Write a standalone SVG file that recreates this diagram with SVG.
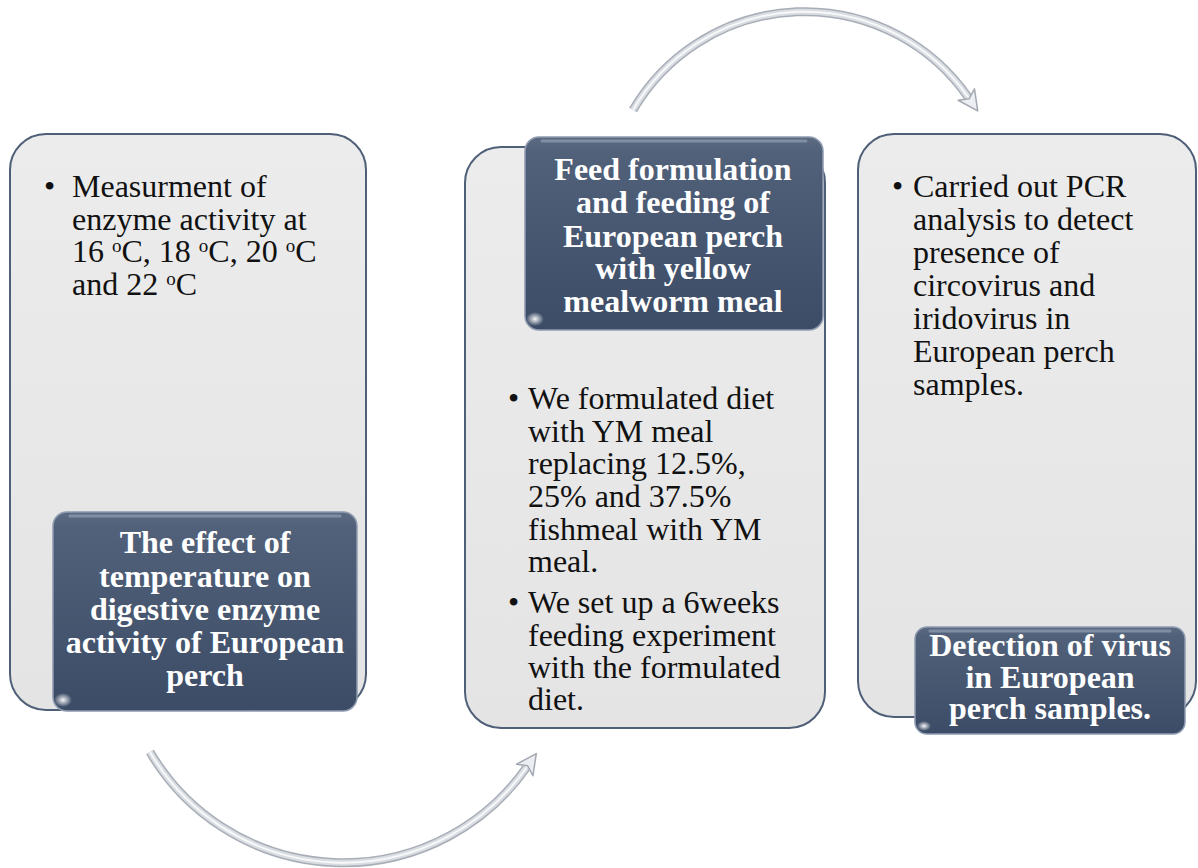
<svg xmlns="http://www.w3.org/2000/svg" width="1198" height="868" viewBox="0 0 1198 868">
<defs>
<linearGradient id="panelG" x1="0" y1="0" x2="0" y2="1">
<stop offset="0" stop-color="#ececec"/>
<stop offset="1" stop-color="#e4e4e4"/>
</linearGradient>
<linearGradient id="darkG" x1="0" y1="0" x2="0" y2="1">
<stop offset="0" stop-color="#5c6b81"/>
<stop offset="0.08" stop-color="#51617a"/>
<stop offset="1" stop-color="#3c4c66"/>
</linearGradient>
<radialGradient id="glint" cx="0.5" cy="0.5" r="0.5">
<stop offset="0" stop-color="#ffffff" stop-opacity="0.95"/>
<stop offset="1" stop-color="#ffffff" stop-opacity="0"/>
</radialGradient>
<marker id="head" viewBox="0 0 26 26" refX="6" refY="13" markerWidth="26" markerHeight="26" markerUnits="userSpaceOnUse" orient="auto">
<path d="M3,3 L23,13 L3,23 L8,13 Z" fill="#eceef1" stroke="#a3a9b2" stroke-width="1.5" stroke-linejoin="round"/>
</marker>
<style>
.panel{fill:url(#panelG);stroke:#4f5f77;stroke-width:2}
.dark{fill:url(#darkG);stroke:#8e9bb0;stroke-width:1.5}
.darkHi{fill:none;stroke:#8a98ad;stroke-width:3;stroke-linecap:round;opacity:0.8}
.body{font-family:"Liberation Serif","Times New Roman",serif;font-size:32px;fill:#111111}
.title{font-family:"Liberation Serif","Times New Roman",serif;font-size:32px;font-weight:bold;fill:#ffffff;text-anchor:middle}
.arcOut{fill:none;stroke:#a8aeb7;stroke-width:9;stroke-linecap:butt}
.arcIn{fill:none;stroke:#d9dce1;stroke-width:6;stroke-linecap:butt}
.arcHi{fill:none;stroke:#f7f8fa;stroke-width:2}
</style>
</defs>
<rect width="1198" height="868" fill="#ffffff"/>

<g id="connectors">
<path class="arcOut" d="M150,752 A224,224 0 0 0 526.5,767.5"/>
<path class="arcIn" d="M150,752 A224,224 0 0 0 526.5,767.5"/>
<path class="arcHi" d="M150,752 A224,224 0 0 0 526.5,767.5" marker-end="url(#head)"/>
<path class="arcOut" d="M633,110 A199,199 0 0 1 968,97"/>
<path class="arcIn" d="M633,110 A199,199 0 0 1 968,97"/>
<path class="arcHi" d="M633,110 A199,199 0 0 1 968,97" marker-end="url(#head)"/>
</g>

<g id="panel1">
<rect class="panel" x="10" y="134" width="356" height="576" rx="36" ry="36"/>
<text class="body"><tspan x="44" y="197">•</tspan><tspan x="72" y="197">Measurment of</tspan><tspan x="72" y="230">enzyme activity at</tspan><tspan x="72" y="262">16 <tspan font-size="19" dy="-10">o</tspan><tspan dy="10">C, 18 </tspan><tspan font-size="19" dy="-10">o</tspan><tspan dy="10">C, 20 </tspan><tspan font-size="19" dy="-10">o</tspan><tspan dy="10">C</tspan></tspan><tspan x="72" y="295">and 22 <tspan font-size="19" dy="-10">o</tspan><tspan dy="10">C</tspan></tspan></text>
</g>

<g id="panel2">
<rect class="panel" x="465" y="147" width="360" height="581" rx="36" ry="36"/>
<text class="body"><tspan x="508" y="409">•</tspan><tspan x="528" y="409">We formulated diet</tspan><tspan x="528" y="442">with YM meal</tspan><tspan x="528" y="474">replacing 12.5%,</tspan><tspan x="528" y="507">25% and 37.5%</tspan><tspan x="528" y="540">fishmeal with YM</tspan><tspan x="528" y="572">meal.</tspan><tspan x="508" y="613">•</tspan><tspan x="528" y="613">We set up a 6weeks</tspan><tspan x="528" y="646">feeding experiment</tspan><tspan x="528" y="678">with the formulated</tspan><tspan x="528" y="710">diet.</tspan></text>
</g>

<g id="panel3">
<rect class="panel" x="858" y="134" width="338" height="583" rx="36" ry="36"/>
<text class="body"><tspan x="892" y="197">•</tspan><tspan x="913" y="197">Carried out PCR</tspan><tspan x="913" y="230">analysis to detect</tspan><tspan x="913" y="263">presence of</tspan><tspan x="913" y="296">circovirus and</tspan><tspan x="913" y="329">iridovirus in</tspan><tspan x="913" y="362">European perch</tspan><tspan x="913" y="395">samples.</tspan></text>
</g>

<g id="title1">
<rect class="dark" x="53" y="512" width="304" height="199" rx="14" ry="14"/>
<line class="darkHi" x1="70" y1="516" x2="340" y2="516"/>
<ellipse cx="63" cy="700" rx="9" ry="7" fill="url(#glint)"/>
<text class="title"><tspan x="205" y="553">The effect of</tspan><tspan x="205" y="587">temperature on</tspan><tspan x="205" y="620">digestive enzyme</tspan><tspan x="205" y="653">activity of European</tspan><tspan x="205" y="686">perch</tspan></text>
</g>

<g id="title2">
<rect class="dark" x="525" y="137" width="298" height="193" rx="14" ry="14"/>
<line class="darkHi" x1="542" y1="141" x2="806" y2="141"/>
<ellipse cx="535" cy="319" rx="9" ry="7" fill="url(#glint)"/>
<text class="title"><tspan x="673" y="180">Feed formulation</tspan><tspan x="673" y="213">and feeding of</tspan><tspan x="673" y="247">European perch</tspan><tspan x="673" y="279">with yellow</tspan><tspan x="673" y="312">mealworm meal</tspan></text>
</g>

<g id="title3">
<rect class="dark" x="915" y="627" width="270" height="107" rx="12" ry="12"/>
<line class="darkHi" x1="930" y1="631" x2="1170" y2="631"/>
<ellipse cx="924" cy="726" rx="7" ry="5" fill="url(#glint)"/>
<text class="title"><tspan x="1050" y="656">Detection of virus</tspan><tspan x="1050" y="688">in European</tspan><tspan x="1050" y="719">perch samples.</tspan></text>
</g>
</svg>
